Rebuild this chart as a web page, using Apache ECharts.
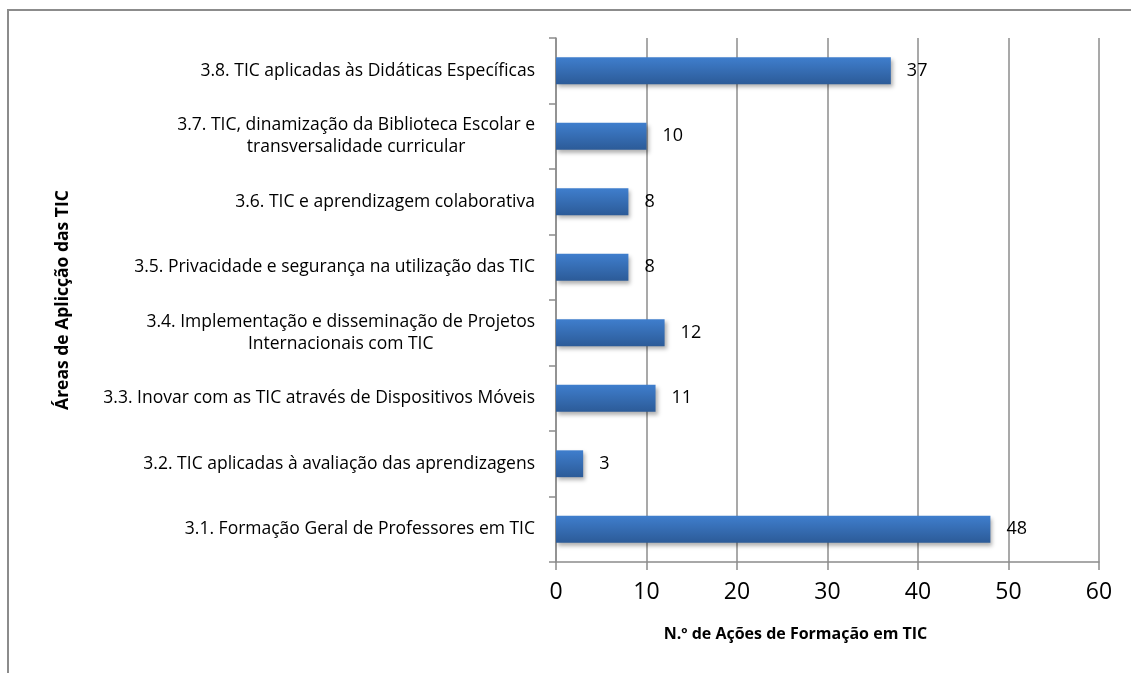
<!DOCTYPE html>
<html>
<head>
<meta charset="utf-8">
<script src="https://cdn.jsdelivr.net/npm/echarts@6/dist/echarts.min.js"></script>
<style>
  html, body { margin: 0; padding: 0; background: #fff; }
  #frame { position: absolute; left: 7px; top: 9px; width: 1130px; height: 670px; border-left: 2px solid #8c8c8c; border-top: 2px solid #8c8c8c; }
  #main { position: absolute; left: 0; top: 0; width: 1131px; height: 673px; }
</style>
</head>
<body>
<div id="frame"></div>
<div id="main"></div>
<script>
// categories listed bottom to top (category axis starts at the bottom)
const categories = [
  '3.1. Formação Geral de Professores em TIC',
  '3.2. TIC aplicadas à avaliação das aprendizagens',
  '3.3. Inovar com as TIC através de Dispositivos Móveis',
  '3.4. Implementação e disseminação de Projetos\nInternacionais com TIC',
  '3.5. Privacidade e segurança na utilização das TIC',
  '3.6. TIC e aprendizagem colaborativa',
  '3.7. TIC, dinamização da Biblioteca Escolar e\ntransversalidade curricular',
  '3.8. TIC aplicadas às Didáticas Específicas'
]
const acoes = [48, 3, 11, 12, 8, 8, 10, 37]
const xTicks = [0, 10, 20, 30, 40, 50, 60]

const font = 'Open Sans'
const chart = echarts.init(document.getElementById('main'))
const option = {
  animation: false,
  grid: { left: 556, right: 32, top: 38, bottom: 111, containLabel: false },
  xAxis: {
    type: 'value',
    min: xTicks[0],
    max: xTicks[xTicks.length - 1],
    interval: 10,
    name: 'N.º de Ações de Formação em TIC',
    nameLocation: 'middle',
    nameGap: 64,
    nameTextStyle: { fontFamily: font, fontWeight: 'bold', fontSize: 16, color: '#000', padding: [0, 64, 0, 0] },
    axisLine: { show: true, lineStyle: { color: '#8c8c8c', width: 1.5 } },
    axisTick: { show: true, length: 8, lineStyle: { color: '#8c8c8c', width: 1.5 } },
    axisLabel: { fontFamily: font, fontSize: 23, color: '#000', margin: 19 },
    splitLine: { show: true, lineStyle: { color: '#8c8c8c', width: 1.5 } }
  },
  yAxis: {
    type: 'category',
    data: categories,
    name: 'Áreas de Aplicção das TIC',
    nameLocation: 'middle',
    nameGap: 484,
    nameRotate: 90,
    nameTextStyle: { fontFamily: font, fontWeight: 'bold', fontSize: 17.5, color: '#000' },
    axisLine: { show: true, lineStyle: { color: '#8c8c8c', width: 1.5 } },
    axisTick: { show: true, length: 7, lineStyle: { color: '#8c8c8c', width: 1.5 } },
    axisLabel: {
      fontFamily: font, fontSize: 17.5, color: '#000', margin: 21, lineHeight: 22,
      formatter: v => v.split('\n').map(s => '{c|' + s + '}').join('\n'),
      rich: { c: { fontFamily: font, fontSize: 17.5, color: '#000', align: 'center', lineHeight: 22 } }
    }
  },
  series: [{
    type: 'bar',
    data: acoes,
    barCategoryGap: '59%',
    itemStyle: {
      color: new echarts.graphic.LinearGradient(0, 0, 0, 1, [
        { offset: 0, color: '#3f7ecd' },
        { offset: 1, color: '#2c5b98' }
      ]),
      shadowColor: 'rgba(0,0,0,0.3)',
      shadowBlur: 4,
      shadowOffsetX: 2,
      shadowOffsetY: 3
    },
    label: { show: true, position: 'right', distance: 16, fontFamily: font, fontSize: 18, color: '#000' }
  }]
}
option && chart.setOption(option)
</script>
</body>
</html>
